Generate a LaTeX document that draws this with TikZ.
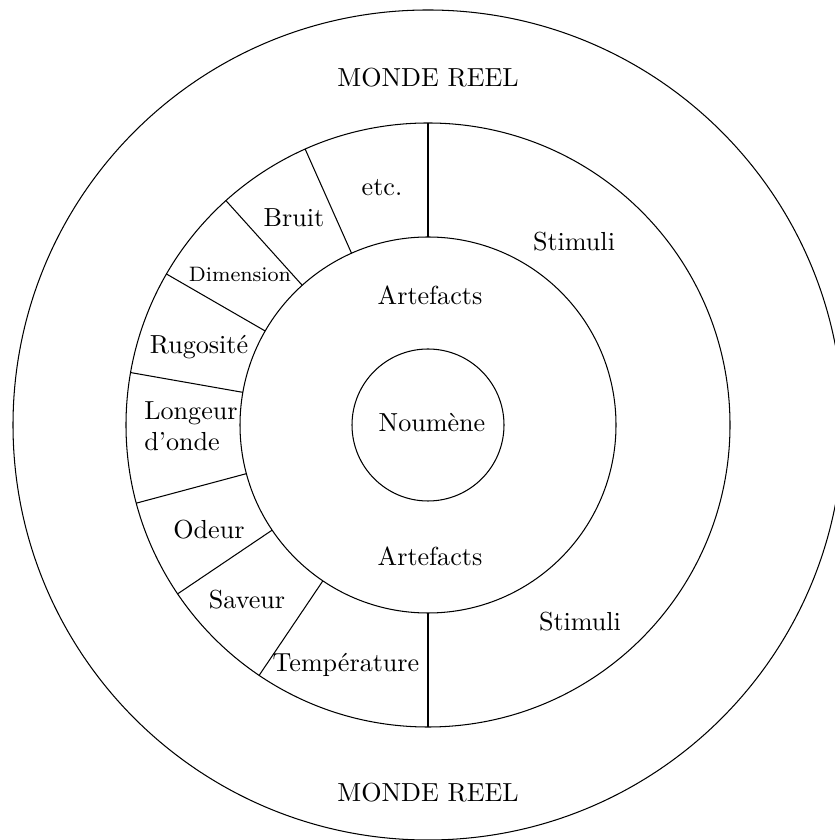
\documentclass[tikz,border=0pt]{standalone}
\usepackage{fontspec}
\usetikzlibrary{calc}
\begin{document}
\begin{tikzpicture}[x=0.3832pt,y=0.3832pt,
  ring/.style={draw,line width=0.4pt},
  lbl/.style={inner sep=0pt,font=\normalsize},
  small/.style={inner sep=0pt,font=\footnotesize}]
\path[use as bounding box] (0,0) rectangle (835,840);
\coordinate (C) at (428,415);
% circles
\draw[ring] (C) circle[radius=415];
\draw[ring] (C) circle[radius=302];
\draw[ring] (C) circle[radius=188];
\draw[ring] (C) circle[radius=76];
% radial separators
\foreach \a in {90,114,132,150,170,195,214,236,270}{
  \draw[ring] ($(C)+(\a:188)$) -- ($(C)+(\a:302)$);
}
% labels
\node[lbl] (mr1) at (428,762) {MONDE REEL};
\node[lbl] (mr2) at (428,47) {MONDE REEL};
\node[lbl] (st1) at (574,598) {Stimuli};
\node[lbl] (st2) at (580,218) {Stimuli};
\node[lbl] (ar1) at (430,545) {Artefacts};
\node[lbl] (ar2) at (430,284) {Artefacts};
\node[lbl] (nou) at (432,417) {Noumène};
\node[lbl] (etc) at (382,652) {etc.};
\node[lbl] (bru) at (294,622) {Bruit};
\node[small] (dim) at (240,566) {Dimension};
\node[lbl] (rug) at (199,493) {Rugosité};
\node[lbl,align=left] (lon) at (191,414) {Longeur\\d'onde};
\node[lbl] (ode) at (209,310) {Odeur};
\node[lbl] (sav) at (247,240) {Saveur};
\node[lbl] (tem) at (346,175) {Température};
\end{tikzpicture}
\end{document}
